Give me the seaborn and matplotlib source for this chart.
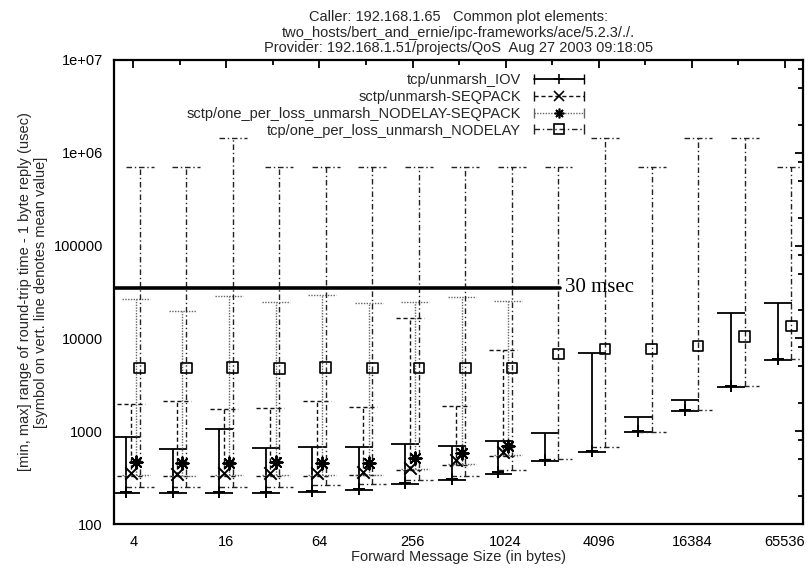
import numpy as np
import matplotlib
matplotlib.use("Agg")
import matplotlib.pyplot as plt
import seaborn as sns
from matplotlib.lines import Line2D
from matplotlib.legend_handler import HandlerTuple, HandlerLine2D
from matplotlib.ticker import FixedLocator, NullFormatter, FixedFormatter

# message sizes (bytes)
sizes = [4, 8, 16, 32, 64, 128, 256, 512, 1024, 2048, 4096, 8192, 16384, 32768, 65536]
sctp_sizes = sizes[:9]

# tcp/unmarsh_IOV  (usec)
iov_min = [215, 215, 215, 215, 222, 235, 270, 300, 350, 475, 600, 980, 1650, 3000, 5850]
iov_mean = [220, 220, 220, 220, 227, 241, 277, 308, 360, 487, 612, 1000, 1690, 3080, 6000]
iov_max = [860, 650, 1060, 660, 680, 680, 730, 700, 790, 960, 6950, 1420, 2170, 18800, 24000]

# sctp/unmarsh-SEQPACK
seq_min = [330, 330, 330, 330, 330, 335, 380, 430, 540]
seq_mean = [355, 350, 355, 355, 355, 360, 400, 490, 600]
seq_max = [1960, 2110, 1735, 1770, 2110, 1830, 16600, 1870, 7500]

# sctp/one_per_loss_unmarsh_NODELAY-SEQPACK
nds_min = [335, 330, 335, 335, 335, 340, 390, 440, 560]
nds_mean = [466, 454, 454, 460, 454, 454, 514, 580, 700]
nds_max = [26500, 19700, 28600, 24700, 29400, 24000, 24500, 27900, 25300]

# tcp/one_per_loss_unmarsh_NODELAY
opl_min = [250, 250, 250, 250, 260, 270, 300, 330, 380, 500, 675, 990, 1690, 3070, 6000]
opl_mean = [4800, 4800, 4900, 4700, 4900, 4800, 4800, 4800, 4800, 6790, 7690, 7700, 8280, 10400, 13600]
opl_max = [7e5, 7e5, 1.45e6, 7e5, 7e5, 7e5, 7e5, 7e5, 7e5, 7e5, 1.45e6, 7e5, 1.45e6, 1.45e6, 7e5]

labels = ["tcp/unmarsh_IOV", "sctp/unmarsh-SEQPACK",
          "sctp/one_per_loss_unmarsh_NODELAY-SEQPACK", "tcp/one_per_loss_unmarsh_NODELAY"]

threshold = 35000      # the "30 msec" reference line
threshold_end = 2300   # x where the line stops

title = ("Caller: 192.168.1.65   Common plot elements:\n"
         "two_hosts/bert_and_ernie/ipc-frameworks/ace/5.2.3/./.\n"
         "Provider: 192.168.1.51/projects/QoS  Aug 27 2003 09:18:05")

sns.set_theme(style="white")
plt.rcParams['font.family'] = ['Liberation Sans', 'DejaVu Sans']

fig = plt.figure(figsize=(8.12, 5.73), dpi=100)
ax = fig.add_axes([114 / 812, 1 - 524 / 573, 689 / 812, 464 / 573])

cap = 2 ** 0.3
# x data, min, mean, max, x shift, line style, marker, line width, line colour
series = [
    (sizes, iov_min, iov_mean, iov_max, 0.90, '-', '+', 1.3, '#000000'),
    (sctp_sizes, seq_min, seq_mean, seq_max, 0.96, (0, (3, 2)), 'x', 1.0, '#111111'),
    (sctp_sizes, nds_min, nds_mean, nds_max, 1.04, (0, (1, 1)), (8, 2, 0), 1.0, '#666666'),
    (sizes, opl_min, opl_mean, opl_max, 1.10, (0, (4, 2, 1, 2)), 's', 1.0, '#222222'),
]

handles = []
hmap = {tuple: HandlerTuple(ndivide=1, pad=0)}
for (xv, lo, mid, hi, shift, ls, mk, lw, col), lab in zip(series, labels):
    xs = np.array(xv) * shift
    ax.vlines(xs, lo, hi, colors=col, linestyles=[ls], lw=lw)
    ax.hlines(lo, xs / cap, xs * cap, colors=col, linestyles=[ls], lw=lw)
    ax.hlines(hi, xs / cap, xs * cap, colors=col, linestyles=[ls], lw=lw)
    if mk == 's':
        sns.scatterplot(x=xs, y=mid, marker='s', s=60, facecolor='none',
                        edgecolor='black', linewidth=1.2, ax=ax, zorder=4)
    else:
        sns.scatterplot(x=xs, y=mid, marker=mk, s=80, color='black',
                        linewidth=1.4, ax=ax, zorder=4)
    line = Line2D([], [], color=col, ls=ls, lw=lw)
    ends = Line2D([], [], color=col, ls='none', marker='|', markersize=7)
    pt = Line2D([], [], color='black', ls='none', marker=mk, markersize=7,
                markerfacecolor='none' if mk == 's' else 'black', markeredgewidth=1.2)
    hmap[ends] = HandlerLine2D(numpoints=2, marker_pad=0)
    hmap[pt] = HandlerLine2D(numpoints=1)
    handles.append((line, ends, pt))

ax.plot([3, threshold_end], [threshold, threshold], color='black', lw=2.6)
ax.text(threshold_end * 1.08, threshold, "30 msec", va='center', ha='left',
        fontsize=15, family=['Liberation Serif', 'DejaVu Serif'], color='black')

ax.set_xscale('log', base=2)
ax.set_yscale('log')
ax.set_xlim(3, 86000)
ax.set_ylim(100, 1e7)

major_x = sizes[::2]
ax.xaxis.set_major_locator(FixedLocator(major_x))
ax.xaxis.set_major_formatter(FixedFormatter([str(v) for v in major_x]))
ax.xaxis.set_minor_locator(FixedLocator(sizes[1::2]))
ax.xaxis.set_minor_formatter(NullFormatter())

major_y = [1e2, 1e3, 1e4, 1e5, 1e6, 1e7]
ax.yaxis.set_major_locator(FixedLocator(major_y))
ax.yaxis.set_major_formatter(FixedFormatter(['100', '1000', '10000', '100000', '1e+06', '1e+07']))
minor_y = [m * d for d in major_y[:-1] for m in (2, 5, 8)]
ax.yaxis.set_minor_locator(FixedLocator(minor_y))
ax.yaxis.set_minor_formatter(NullFormatter())

ax.tick_params(which='both', direction='in', top=True, right=True, colors='black',
               labelsize=10.5, width=1.3)
ax.tick_params(which='major', length=6, pad=8)
ax.tick_params(which='minor', length=3.5)
for sp in ax.spines.values():
    sp.set_color('black')
    sp.set_linewidth(1.6)

ax.set_xlabel("Forward Message Size (in bytes)", fontsize=10.5, labelpad=1)
ax.set_ylabel("[min, max] range of round-trip time - 1 byte reply (usec)\n"
              "[symbol on vert. line denotes mean value]", fontsize=10.5, labelpad=4)
ax.set_title(title, fontsize=10.5, linespacing=1.1, pad=6)

ax.legend(handles, labels, handler_map=hmap, loc='upper right',
          bbox_to_anchor=(0.69, 0.985), frameon=False, markerfirst=False,
          fontsize=10.5, handlelength=3.4, handletextpad=0.9, labelspacing=0.2,
          borderaxespad=0)

fig.savefig("out.png", dpi=100)
